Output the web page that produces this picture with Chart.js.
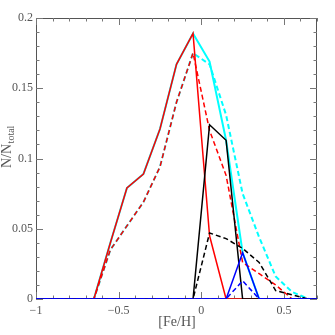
<!DOCTYPE html>
<html>
<head>
<meta charset="utf-8">
<script src="https://cdn.jsdelivr.net/npm/chart.js@4"></script>
<style>
  body { margin: 0; background: #fff; }
  canvas { display: block; }
</style>
</head>
<body>
<canvas id="chartFeH" width="335" height="335"></canvas>
<script>
// Centros de los bins en [Fe/H]
const feh = [-1.05, -0.95, -0.85, -0.75, -0.65, -0.55, -0.45, -0.35, -0.25, -0.15, -0.05,
             0.05, 0.15, 0.25, 0.35, 0.45, 0.55, 0.65, 0.75];

// Fracciones N/Ntotal por poblacion (sólido) y modelo (discontinuo)
const redSolid    = [0, 0, 0, 0, 0, 0.040, 0.079, 0.089, 0.121, 0.167, 0.189, 0.045, 0, 0, 0, 0, 0, 0, 0];
const redDashed   = [0, 0, 0, 0, 0, 0.035, 0.052, 0.069, 0.094, 0.140, 0.175, 0.120, 0.088, 0.026, 0.018, 0.010, 0, 0, 0];
const blackSolid  = [0, 0, 0, 0, 0, 0, 0, 0, 0, 0, 0, 0.124, 0.113, 0, 0, 0, 0, 0, 0];
const blackDashed = [0, 0, 0, 0, 0, 0, 0, 0, 0, 0, 0, 0.047, 0.043, 0.036, 0.026, 0.006, 0.003, 0, 0];
const blueSolid   = [0, 0, 0, 0, 0, 0, 0, 0, 0, 0, 0, 0, 0, 0.033, 0, 0, 0, 0, 0];
const blueDashed  = [0, 0, 0, 0, 0, 0, 0, 0, 0, 0, 0, 0, 0, 0.013, 0, 0, 0, 0, 0];
const cyanSolid   = [0, 0, 0, 0, 0, 0.040, 0.079, 0.089, 0.121, 0.167, 0.189, 0.169, 0.113, 0.033, 0, 0, 0, 0, 0];
const cyanDashed  = [0, 0, 0, 0, 0, 0.035, 0.052, 0.069, 0.094, 0.140, 0.175, 0.167, 0.131, 0.075, 0.044, 0.016, 0.005, 0, 0];

const xMajor = 0.5;
const yMajor = 0.05;

const toPoints = vals => feh.map((x, i) => ({ x, y: vals[i] }));

const isMultiple = (v, step) => Math.abs(v / step - Math.round(v / step)) < 1e-6;
const fmt = v => {
    const s = String(Math.round(v * 1000) / 1000);
    return s.startsWith('-') ? '\u2212' + s.slice(1) : s;
};

const mkSet = (vals, color, dashed, width) => ({
    data: toPoints(vals),
    borderColor: color,
    borderWidth: width || 1.5,
    borderDash: dashed ? [5, 3] : [],
    pointRadius: 0,
    tension: 0,
    fill: false
});

// Marco, marcas de ejes hacia dentro y títulos
const framePlugin = {
    id: 'framePlugin',
    beforeDatasetsDraw(chart) {
        const { ctx, chartArea: a, scales: { x, y } } = chart;
        ctx.save();
        ctx.strokeStyle = '#555';
        ctx.lineWidth = 1;
        ctx.strokeRect(a.left + 0.5, a.top + 0.5, a.right - a.left - 1, a.bottom - a.top - 1);
        ctx.strokeStyle = '#777';
        ctx.beginPath();
        x.ticks.forEach(t => {
            const px = Math.round(x.getPixelForValue(t.value)) + 0.5;
            const len = isMultiple(t.value, xMajor) ? 7 : 3.5;
            ctx.moveTo(px, a.bottom); ctx.lineTo(px, a.bottom - len);
            ctx.moveTo(px, a.top); ctx.lineTo(px, a.top + len);
        });
        y.ticks.forEach(t => {
            const py = Math.round(y.getPixelForValue(t.value)) + 0.5;
            const len = isMultiple(t.value, yMajor) ? 7 : 3.5;
            ctx.moveTo(a.left, py); ctx.lineTo(a.left + len, py);
            ctx.moveTo(a.right, py); ctx.lineTo(a.right - len, py);
        });
        ctx.stroke();
        ctx.restore();
    },
    afterDraw(chart) {
        const { ctx } = chart;
        ctx.save();
        ctx.fillStyle = '#555';
        ctx.font = '14px "Liberation Serif"';
        ctx.textAlign = 'center';
        ctx.textBaseline = 'alphabetic';
        ctx.fillText('[Fe/H]', 177, 326);
        // N/N_total girado
        ctx.translate(11, 168);
        ctx.rotate(-Math.PI / 2);
        ctx.textAlign = 'left';
        ctx.fillText('N/N', 0, 0);
        const w = ctx.measureText('N/N').width;
        ctx.font = '10px "Liberation Serif"';
        ctx.fillText('total', w + 0.5, 3);
        ctx.restore();
    }
};

new Chart(document.getElementById('chartFeH').getContext('2d'), {
    type: 'line',
    data: {
        datasets: [
            mkSet(blueSolid, '#0000ff'),
            mkSet(blueDashed, '#0000ff', true),
            mkSet(blackSolid, '#000000'),
            mkSet(blackDashed, '#000000', true),
            mkSet(redSolid, '#ff0000'),
            mkSet(redDashed, '#ff0000', true),
            mkSet(cyanSolid, '#00ffff', false, 2),
            mkSet(cyanDashed, '#00ffff', true, 2)
        ]
    },
    options: {
        responsive: false,
        animation: false,
        layout: { padding: { top: 18, right: 18, left: 0, bottom: 0 } },
        plugins: { legend: { display: false }, tooltip: { enabled: false } },
        scales: {
            x: {
                type: 'linear',
                min: -1,
                max: 0.7,
                grid: { display: false, drawTicks: false },
                border: { display: false },
                afterFit: s => { s.height = 36; },
                ticks: {
                    stepSize: 0.1,
                    autoSkip: false,
                    maxRotation: 0,
                    padding: 5,
                    color: '#555',
                    font: { family: '"Liberation Serif"', size: 12 },
                    callback: v => isMultiple(v, xMajor) ? fmt(v) : ''
                }
            },
            y: {
                type: 'linear',
                min: 0,
                max: 0.2,
                grid: { display: false, drawTicks: false },
                border: { display: false },
                afterFit: s => { s.width = 36; },
                ticks: {
                    stepSize: 0.01,
                    autoSkip: false,
                    padding: 3,
                    color: '#555',
                    font: { family: '"Liberation Serif"', size: 12 },
                    callback: v => isMultiple(v, yMajor) ? fmt(v) : ''
                }
            }
        }
    },
    plugins: [framePlugin]
});
</script>
</body>
</html>
